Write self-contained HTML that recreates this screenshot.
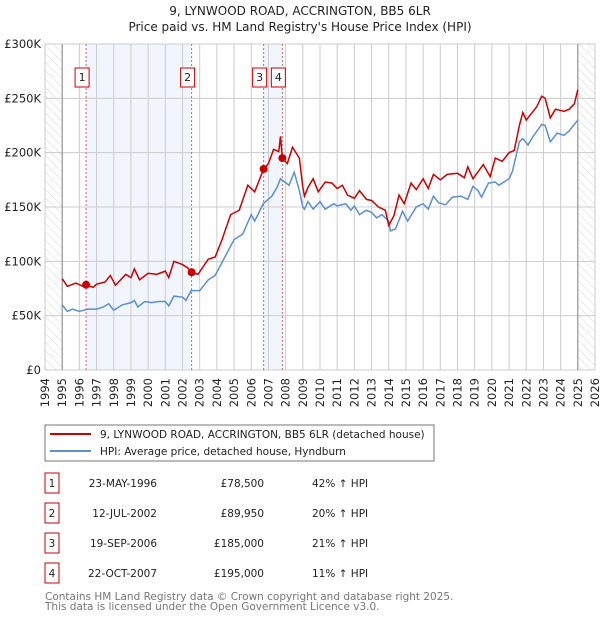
<!DOCTYPE html>
<html><head><meta charset="utf-8"><style>
body{margin:0;background:#fff;font-family:"DejaVu Sans","Liberation Sans",sans-serif;}
svg text{font-family:"DejaVu Sans","Liberation Sans",sans-serif;}
</style></head><body>
<svg id="c" width="600" height="620" viewBox="0 0 600 620" xmlns="http://www.w3.org/2000/svg">
<defs><pattern id="hatch" width="6" height="6" patternUnits="userSpaceOnUse" patternTransform="rotate(-45)"><line x1="0" y1="0" x2="0" y2="6" stroke="#ccc" stroke-width="0.8"/></pattern></defs>
<text x="300" y="15" text-anchor="middle" font-size="12" fill="#222">9, LYNWOOD ROAD, ACCRINGTON, BB5 6LR</text>
<text x="300" y="31" text-anchor="middle" font-size="12" fill="#222">Price paid vs. HM Land Registry's House Price Index (HPI)</text>
<g id="plot"></g>
<rect x="45" y="425" width="389" height="36" fill="#fff" stroke="#777"/>
<line x1="50" y1="434" x2="91" y2="434" stroke="#cc0000" stroke-width="2"/>
<text x="100" y="438" font-size="10.5" fill="#222">9, LYNWOOD ROAD, ACCRINGTON, BB5 6LR (detached house)</text>
<line x1="50" y1="451" x2="91" y2="451" stroke="#5b8fd0" stroke-width="2"/>
<text x="100" y="455" font-size="10.5" fill="#222">HPI: Average price, detached house, Hyndburn</text>
<g id="table"></g>
<text x="45" y="600" font-size="10.5" fill="#777">Contains HM Land Registry data © Crown copyright and database right 2025.</text>
<text x="45" y="610" font-size="10.5" fill="#777">This data is licensed under the Open Government Licence v3.0.</text>
</svg>
<script>
const hpiYears=[1995.0,1995.3,1995.6,1996.0,1996.5,1997.0,1997.4,1997.7,1998.0,1998.5,1999.0,1999.2,1999.4,1999.8,2000.2,2000.6,2001.0,2001.2,2001.5,2002.0,2002.2,2002.5,2003.0,2003.5,2003.9,2004.5,2005.0,2005.5,2006.0,2006.2,2006.7,2007.2,2007.5,2007.7,2008.2,2008.5,2008.8,2009.0,2009.1,2009.3,2009.6,2010.0,2010.3,2010.8,2011.0,2011.5,2011.8,2012.0,2012.3,2012.7,2013.0,2013.3,2013.6,2014.0,2014.1,2014.4,2014.8,2015.1,2015.6,2016.0,2016.3,2016.6,2016.9,2017.3,2017.7,2018.2,2018.6,2018.9,2019.2,2019.4,2019.8,2020.2,2020.4,2021.0,2021.2,2021.6,2021.8,2022.1,2022.4,2022.9,2023.1,2023.4,2023.8,2024.2,2024.5,2025.0];
const hpiValues=[60,54,56,54,56,56,58,61,55,60,62,64,58,63,62,63,63,59,68,67,64,73,73,83,87,105,120,125,143,137,153,160,168,176,170,182,165,150,148,155,148,155,148,153,151,153,147,151,143,147,145,140,143,137,128,130,146,137,150,153,148,160,154,152,159,160,157,169,165,159,172,173,170,176,183,210,213,207,215,226,225,210,218,216,220,230];
const ppYears=[1995.0,1995.3,1995.8,1996.2,1996.4,1996.8,1997.0,1997.5,1997.8,1998.1,1998.7,1999.0,1999.2,1999.5,2000.0,2000.5,2001.0,2001.2,2001.5,2002.0,2002.3,2002.53,2002.9,2003.5,2003.9,2004.3,2004.8,2005.3,2005.8,2006.2,2006.72,2007.0,2007.3,2007.6,2007.7,2007.81,2008.1,2008.4,2008.8,2009.0,2009.1,2009.3,2009.6,2009.9,2010.3,2010.7,2011.0,2011.3,2011.6,2012.0,2012.3,2012.7,2013.0,2013.4,2013.8,2014.0,2014.3,2014.6,2014.9,2015.3,2015.6,2016.0,2016.3,2016.6,2017.0,2017.4,2018.0,2018.4,2018.6,2018.9,2019.5,2019.9,2020.2,2020.6,2021.0,2021.3,2021.6,2021.8,2022.0,2022.3,2022.6,2022.9,2023.1,2023.4,2023.7,2024.2,2024.5,2024.8,2025.0];
const ppValues=[84,77,80,77,78.5,76,79,81,87,78,88,85,93,83,89,88,91,85,100,97,94,90,88,102,104,120,143,147,170,164,185,190,203,201,215,195,190,205,195,168,160,168,176,164,173,172,167,170,161,158,165,157,156,150,147,133,142,161,153,172,166,176,167,180,175,180,181,177,187,176,189,178,195,192,200,202,225,237,230,236,242,252,250,232,240,238,240,245,258];
const saleYears=[2006.72-10.33,2002.53,2006.72,2007.81];
const salePrices=[78.5,89.95,185,195];
const saleLabels=["1","2","3","4"];
const saleDates=["23-MAY-1996","12-JUL-2002","19-SEP-2006","22-OCT-2007"];
const salePriceText=["£78,500","£89,950","£185,000","£195,000"];
const saleHpiText=["42% ↑ HPI","20% ↑ HPI","21% ↑ HPI","11% ↑ HPI"];
const yTicks=[0,50,100,150,200,250,300];
const yTickLabels=["£0","£50K","£100K","£150K","£200K","£250K","£300K"];
const xTicks=[];for(let y=1994;y<=2026;y++)xTicks.push(y);

const X0=45,X1=595,Y0=370,Y1=44;
const xs=y=>X0+(y-1994)/(2026-1994)*(X1-X0);
const ys=v=>Y0-v/300*(Y0-Y1);
const NS="http://www.w3.org/2000/svg";
const g=document.getElementById('plot');
function mk(tag,at,parent){const e=document.createElementNS(NS,tag);for(const k in at)e.setAttribute(k,at[k]);(parent||g).appendChild(e);return e;}
// shaded spans
for(const [a,b] of [[0,1],[2,3]]){
 const r=mk('rect',{x:xs(saleYears[a]),y:Y1,width:xs(saleYears[b])-xs(saleYears[a]),height:Y0-Y1,fill:'#eef3fc',opacity:0.8});
 
 
}
// hatched
const h1=mk('rect',{x:xs(1994),y:Y1,width:xs(1995)-xs(1994),height:Y0-Y1,fill:'url(#hatch)'});


const h2=mk('rect',{x:xs(2025),y:Y1,width:xs(2026)-xs(2025),height:Y0-Y1,fill:'url(#hatch)'});


// grid
xTicks.forEach(t=>{
 const l=mk('line',{x1:xs(t),x2:xs(t),y1:Y1,y2:Y0,stroke:'#ccc','stroke-width':1});
 
 
 const tx=mk('text',{x:0,y:0,'font-size':11.5,fill:'#222','text-anchor':'end',transform:`translate(${xs(t)+4},${Y0+8}) rotate(-90)`});
 tx.textContent=t;
 
 
});
yTicks.forEach((t,i)=>{
 const l=mk('line',{x1:X0,x2:X1,y1:ys(t),y2:ys(t),stroke:'#ccc','stroke-width':1});
 
 
 const tx=mk('text',{x:41,y:ys(t)+4,'font-size':11.5,fill:'#222','text-anchor':'end'});
 tx.textContent=yTickLabels[i];
 
 
});
const v1=mk('line',{x1:xs(1995),x2:xs(1995),y1:Y1,y2:Y0,stroke:'#888','stroke-width':1});


const v2=mk('line',{x1:xs(2025),x2:xs(2025),y1:Y1,y2:Y0,stroke:'#888','stroke-width':1});


// sale lines and boxes
saleYears.forEach((s,i)=>{
 const l=mk('line',{x1:xs(s),x2:xs(s),y1:Y1,y2:Y0,stroke:'#e06060','stroke-width':1,'stroke-dasharray':'2,2'});
 
 
 const b=mk('rect',{x:xs(s)-11,y:68,width:14,height:19,fill:'#fff',stroke:'#c00','stroke-width':1});
 
 
 const t=mk('text',{x:xs(s)-4,y:81,'font-size':11,fill:'#222','text-anchor':'middle'});
 t.textContent=saleLabels[i];
 
 
});
// series
const hp=mk('polyline',{points:hpiYears.map((y,i)=>xs(y)+','+ys(hpiValues[i])).join(' '),fill:'none',stroke:'#5b8fd0','stroke-width':1.5});


const pp=mk('polyline',{points:ppYears.map((y,i)=>xs(y)+','+ys(ppValues[i])).join(' '),fill:'none',stroke:'#cc0000','stroke-width':1.5});


saleYears.forEach((s,i)=>{
 const c=mk('circle',{cx:xs(s),cy:ys(salePrices[i]),r:4,fill:'#cc0000'});
 
 
});
// table
const tg=document.getElementById('table');
const rowY=[483,513,543,573];
saleLabels.forEach((lab,i)=>{
 const y=rowY[i];
 const b=mk('rect',{x:45,y:y-10,width:14,height:20,fill:'#fff',stroke:'#c00'},tg);
 
 
 const t0=mk('text',{x:52,y:y+4,'font-size':10.5,fill:'#222','text-anchor':'middle'},tg);t0.textContent=lab;
 
 
 const t1=mk('text',{x:157,y:y+4,'font-size':10.5,fill:'#222','text-anchor':'end'},tg);t1.textContent=saleDates[i];
 
 
 const t2=mk('text',{x:264,y:y+4,'font-size':10.5,fill:'#222','text-anchor':'end'},tg);t2.textContent=salePriceText[i];
 
 
 const t3=mk('text',{x:312,y:y+4,'font-size':10.5,fill:'#222'},tg);t3.textContent=saleHpiText[i];
 
 
});
</script>
</body></html>
